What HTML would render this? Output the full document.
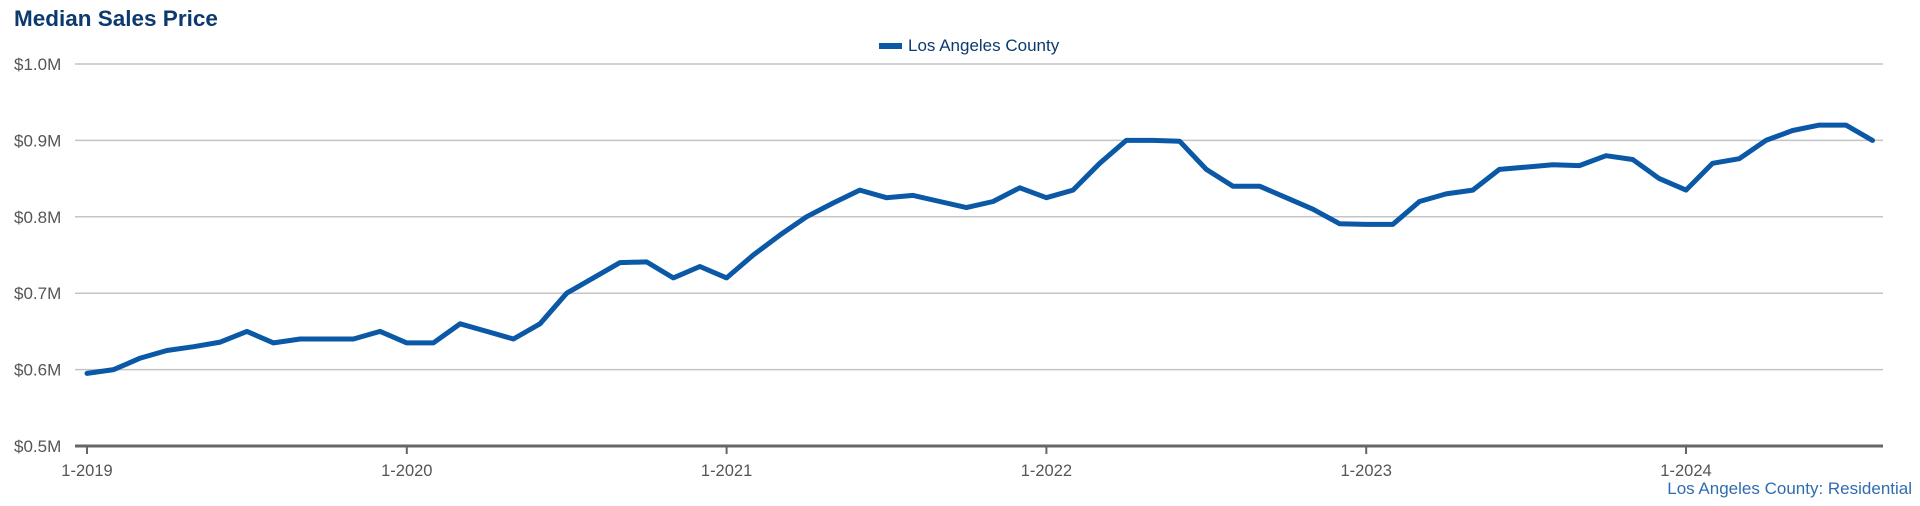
<!DOCTYPE html>
<html><head><meta charset="utf-8"><style>
html,body{margin:0;padding:0;background:#fff;width:1920px;height:506px;overflow:hidden;font-family:"Liberation Sans",Arial,sans-serif;}
</style></head><body>
<svg width="1920" height="506" xmlns="http://www.w3.org/2000/svg">
<text x="14" y="26" font-size="22.5" font-weight="bold" fill="#0d3a6e">Median Sales Price</text>
<g>
<rect x="879" y="43" width="23" height="6" fill="#0a58a6"/>
<text x="908" y="51" font-size="17" fill="#0d3a6e">Los Angeles County</text>
</g>
<g id="grid"></g>
<g id="yt"></g>
<g id="xt"></g>
<path id="line" fill="none" stroke="#0a58a6" stroke-width="5" stroke-linejoin="round" stroke-linecap="round"/>
<text x="1912" y="494" font-size="17" fill="#2f6cb0" text-anchor="end">Los Angeles County: Residential</text>
</svg>
<script>
const values=[0.595,0.600,0.615,0.625,0.630,0.636,0.650,0.635,0.640,0.640,0.640,0.650,
0.635,0.635,0.660,0.650,0.640,0.660,0.700,0.720,0.740,0.741,0.720,0.735,
0.720,0.750,0.776,0.800,0.818,0.835,0.825,0.828,0.820,0.812,0.820,0.838,
0.825,0.835,0.870,0.900,0.900,0.899,0.862,0.840,0.840,0.825,0.810,0.791,
0.790,0.790,0.820,0.830,0.835,0.862,0.865,0.868,0.867,0.880,0.875,0.850,
0.835,0.870,0.876,0.900,0.913,0.920,0.920,0.900];
const yTicks=[0.5,0.6,0.7,0.8,0.9,1.0];
const yLabels=["$0.5M","$0.6M","$0.7M","$0.8M","$0.9M","$1.0M"];
const xLabels=["1-2019","1-2020","1-2021","1-2022","1-2023","1-2024"];
const NS="http://www.w3.org/2000/svg";
const x0=87,perMonth=26.65,left=75,right=1883;
const X=i=>x0+i*perMonth;
const Y=v=>446-(v-0.5)/0.5*382;
const grid=document.getElementById('grid'),yt=document.getElementById('yt'),xt=document.getElementById('xt');
yTicks.forEach((v,i)=>{
 const l=document.createElementNS(NS,'line');
 l.setAttribute('x1',left);l.setAttribute('x2',right);l.setAttribute('y1',Y(v));l.setAttribute('y2',Y(v));
 l.setAttribute('stroke',i===0?'#666':'#c4c4c4');l.setAttribute('stroke-width',i===0?3:1.5);
 
 
 grid.appendChild(l);
 const t=document.createElementNS(NS,'text');
 t.setAttribute('x',14);t.setAttribute('y',Y(v)+6);t.setAttribute('font-size','17');t.setAttribute('fill','#555');
 t.textContent=yLabels[i];
 
 
 yt.appendChild(t);
});
xLabels.forEach((s,i)=>{
 const x=X(i*12);
 const l=document.createElementNS(NS,'line');
 l.setAttribute('x1',x);l.setAttribute('x2',x);l.setAttribute('y1',446);l.setAttribute('y2',454);
 l.setAttribute('stroke','#666');l.setAttribute('stroke-width',2);
 
 
 xt.appendChild(l);
 const t=document.createElementNS(NS,'text');
 t.setAttribute('x',x);t.setAttribute('y',476);t.setAttribute('font-size','16.5');t.setAttribute('fill','#555');t.setAttribute('text-anchor','middle');
 t.textContent=s;
 
 
 xt.appendChild(t);
});
document.getElementById('line').setAttribute('d',values.map((v,i)=>(i?'L':'M')+X(i).toFixed(1)+','+Y(v).toFixed(1)).join(''));
</script>
</body></html>
